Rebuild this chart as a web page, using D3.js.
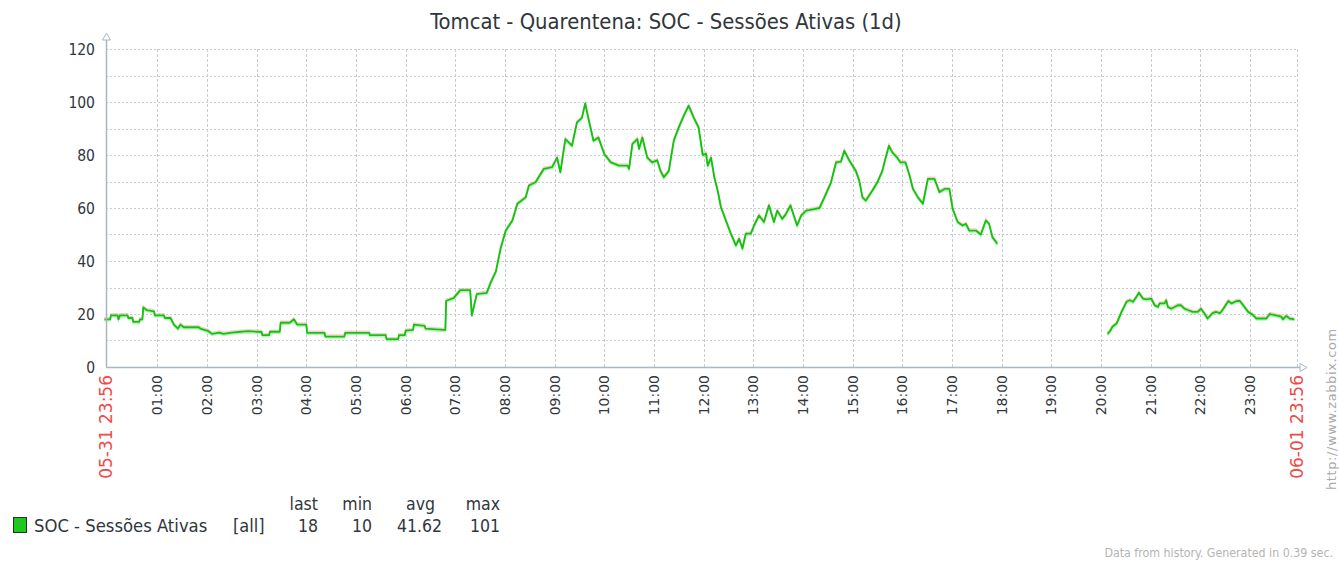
<!DOCTYPE html>
<html>
<head>
<meta charset="utf-8">
<script src="https://cdn.jsdelivr.net/npm/d3@7"></script>
<style>
  body { margin: 0; background: #fff; }
  svg text { font-family: "DejaVu Sans", sans-serif; }
  .cond { font-family: "DejaVu Sans Condensed", "DejaVu Sans", sans-serif; font-stretch: condensed; }
</style>
</head>
<body>
<div id="chart-area"></div>
<script>
// minutes after 06-01 00:00 (start is 05-31 23:56), null = no data
var minutes = [-4, 3, 4, 12, 13, 15, 24, 25, 30, 31, 38, 39, 42, 43, 47, 56, 57, 68, 69, 76, 80, 85, 88, 92,
  110, 112, 122, 126, 135, 140, 150, 158, 170, 186, 187, 195, 196, 208, 209, 220, 225, 229, 240, 241,
  262, 263, 286, 287, 316, 317, 336, 337, 351, 352, 359, 360, 369, 370, 383, 384, 406, 408, 409,
  418, 426, 438, 440, 446, 458, 463, 469, 475, 481, 489, 495, 505, 509, 517, 527, 537, 543, 547,
  553, 561, 567, 573, 577, 581, 587, 593, 600, 608, 618, 628, 630, 634, 640, 642, 646, 652, 658,
  664, 668, 672, 678, 684, 690, 696, 702, 708, 714, 719, 723, 725, 729, 733, 737, 741, 747, 753,
  759, 763, 767, 771, 777, 781, 787, 793, 799, 805, 809, 815, 819, 825, 833, 838, 844, 852, 860,
  866, 874, 880, 886, 890, 896, 904, 908, 912, 916, 924, 930, 936, 940, 944, 948, 954, 958, 964,
  969, 973, 979, 985, 991, 999, 1005, 1011, 1017, 1021, 1027, 1033, 1037, 1041, 1049, 1055, 1061,
  1065, 1069, 1075,
  1140,
  1208, 1211, 1214, 1219, 1225, 1231, 1235, 1239, 1243, 1246, 1251, 1255, 1261, 1265, 1269, 1271,
  1277, 1279, 1281, 1285, 1293, 1297, 1301, 1305, 1311, 1317, 1321, 1325, 1329, 1335, 1339, 1344,
  1348, 1354, 1358, 1364, 1368, 1372, 1378, 1384, 1388, 1400, 1404, 1410, 1418, 1420, 1424, 1428, 1434];

var sessions = [18, 18, 19.5, 19.5, 18, 19.5, 19.5, 18.5, 18.5, 17, 17, 18, 18, 22.5, 21.5, 21, 19.5, 19.5, 18.5, 18.5, 16, 14.5, 16, 15,
  15, 14.5, 13.5, 12.5, 13, 12.5, 13, 13.2, 13.5, 13.2, 12, 12, 13.3, 13.3, 16.7, 16.7, 18, 16, 16, 12.9,
  12.9, 11.5, 11.5, 12.9, 12.9, 12, 12, 10.5, 10.5, 12, 12, 13.7, 14, 16, 15.5, 14.5, 14, 14, 25,
  26, 29, 29, 19.5, 27.5, 28, 32, 36, 45, 51.5, 55.3, 61.6, 64, 68.5, 69.7, 74.8, 75.4, 79, 73.5,
  86, 83.5, 92.3, 94, 99.5, 93.6, 85.4, 86.6, 80.4, 77.2, 76, 76, 74.8, 84.2, 86, 82.3, 86.6, 79, 77.2,
  78, 74, 71.6, 74, 85.4, 90.4, 94.8, 98.6, 94.2, 90.4, 80, 80.5, 76, 79, 71.6, 66.6, 60.3, 55.3, 50.3,
  45.9, 48.4, 44.7, 50.3, 50.3, 53.4, 57.2, 54.7, 61, 54.7, 59, 55.9, 57.5, 61, 53.4, 57.2, 59, 59.5, 60,
  64, 69.7, 77.2, 77.5, 81.6, 78, 74, 70.4, 64, 62.8, 66.6, 69.7, 74, 79, 83.5, 81, 79, 77.2, 77.2,
  72.2, 67.2, 64, 61.6, 71, 71, 66, 67.2, 67.2, 59.7, 54.7, 53.4, 54, 51.5, 51.5, 50, 55.3,
  54, 49, 46.5,
  null,
  12.5, 13.5, 15.2, 16.4, 20.8, 24.6, 25.2, 24.6, 26.5, 28, 25.8, 25.5, 25.8, 23.3, 22.7, 24,
  24, 25.2, 22.7, 22, 23.3, 23.3, 22, 21.5, 20.8, 20.8, 22, 20.3, 18.3, 20.3, 20.8, 20.3,
  22, 24.9, 24, 24.9, 24.9, 23.3, 20.8, 19.6, 18.3, 18.3, 20, 19.6, 19, 18, 19.3, 18.3, 18];

var yTicks = [0, 20, 40, 60, 80, 100, 120];
var hourTicks = ["01:00", "02:00", "03:00", "04:00", "05:00", "06:00", "07:00", "08:00", "09:00", "10:00",
  "11:00", "12:00", "13:00", "14:00", "15:00", "16:00", "17:00", "18:00", "19:00", "20:00",
  "21:00", "22:00", "23:00"];
var legendHeaders = ["last", "min", "avg", "max"];
var legendValues = ["18", "10", "41.62", "101"];

var width = 1339, height = 561;
var plotLeft = 106, plotRight = 1297, plotTop = 49, plotBottom = 367;
var axisColor = "#a9b6c3", gridColor = "#c4ccd4", textColor = "#30363c";

var svg = d3.select("#chart-area").append("svg")
	.attr("width", width)
	.attr("height", height);

var x = d3.scaleLinear().domain([-2, 1437]).range([plotLeft, plotRight]);
var y = d3.scaleLinear().domain([0, 120]).range([plotBottom, plotTop]);

function hourMin(s) {
	return +s.slice(0, 2) * 60;
}

// title
svg.append("text")
	.attr("x", 666)
	.attr("y", 29)
	.attr("text-anchor", "middle")
	.attr("font-size", 21.8)
	.attr("fill", textColor)
	.attr("class", "cond")
	.text("Tomcat - Quarentena: SOC - Sessões Ativas (1d)");

// horizontal grid every 10
svg.append("g").selectAll("line")
	.data(d3.range(10, 121, 10))
	.join("line")
	.attr("x1", plotLeft)
	.attr("x2", plotRight)
	.attr("y1", function(d) { return Math.round(y(d)) + 0.5; })
	.attr("y2", function(d) { return Math.round(y(d)) + 0.5; })
	.attr("stroke", gridColor)
	.attr("stroke-dasharray", "2,2");

// vertical grid at each hour + end
svg.append("g").selectAll("line")
	.data(hourTicks.map(hourMin).concat([1437]))
	.join("line")
	.attr("x1", function(d) { return Math.round(x(d)) + 0.5; })
	.attr("x2", function(d) { return Math.round(x(d)) + 0.5; })
	.attr("y1", plotTop)
	.attr("y2", plotBottom)
	.attr("stroke", gridColor)
	.attr("stroke-dasharray", "3,2");

// y axis labels
svg.append("g").selectAll("text")
	.data(yTicks)
	.join("text")
	.attr("x", 95)
	.attr("y", function(d) { return y(d); })
	.attr("dy", "0.36em")
	.attr("text-anchor", "end")
	.attr("class", "cond")
	.attr("font-size", 15.5)
	.attr("fill", textColor)
	.text(function(d) { return d; });

// hour labels
svg.append("g").selectAll("text")
	.data(hourTicks)
	.join("text")
	.attr("transform", function(d) { return "translate(" + x(hourMin(d)) + ",375) rotate(-90)"; })
	.attr("dy", "0.36em")
	.attr("text-anchor", "end")
	.attr("font-family", "DejaVu Sans Mono, monospace")
	.attr("font-size", 14)
	.attr("fill", textColor)
	.text(function(d) { return d; });

// red start / end labels
svg.append("g").selectAll("text")
	.data([[-2, "05-31 23:56"], [1437, "06-01 23:56"]])
	.join("text")
	.attr("transform", function(d) { return "translate(" + x(d[0]) + ",375) rotate(-90)"; })
	.attr("dy", "0.36em")
	.attr("text-anchor", "end")
	.attr("font-family", "DejaVu Sans Mono, monospace")
	.attr("font-size", 17)
	.attr("fill", "#f04a46")
	.text(function(d) { return d[1]; });

// data line (min / max haze then avg)
var line = d3.line()
	.defined(function(d, i) { return sessions[i] !== null; })
	.x(function(d) { return x(d); })
	.y(function(d, i) { return y(sessions[i]); });

svg.append("path")
	.attr("d", line(minutes))
	.attr("transform", "translate(0,-1.5)")
	.attr("fill", "none")
	.attr("stroke", "#ff9c9c")
	.attr("stroke-opacity", 0.55)
	.attr("stroke-width", 1.5);

svg.append("path")
	.attr("d", line(minutes))
	.attr("transform", "translate(0,1.5)")
	.attr("fill", "none")
	.attr("stroke", "#7cf07c")
	.attr("stroke-opacity", 0.6)
	.attr("stroke-width", 1.5);

svg.append("path")
	.attr("d", line(minutes))
	.attr("fill", "none")
	.attr("stroke", "#0fc40f")
	.attr("stroke-width", 1.8)
	.attr("stroke-linejoin", "round");

// axes with hollow arrows
svg.append("line")
	.attr("x1", plotLeft + 0.5).attr("x2", plotLeft + 0.5)
	.attr("y1", plotBottom).attr("y2", 38)
	.attr("stroke", axisColor).attr("stroke-width", 1.5);
svg.append("line")
	.attr("x1", plotLeft).attr("x2", 1300)
	.attr("y1", plotBottom + 0.5).attr("y2", plotBottom + 0.5)
	.attr("stroke", axisColor).attr("stroke-width", 1.5);
svg.append("path")
	.attr("d", "M" + (plotLeft - 3.5) + ",40 L" + (plotLeft + 0.5) + ",33 L" + (plotLeft + 4.5) + ",40 Z")
	.attr("fill", "#fff").attr("stroke", axisColor);
svg.append("path")
	.attr("d", "M1300," + (plotBottom - 3.5) + " L1307," + (plotBottom + 0.5) + " L1300," + (plotBottom + 4.5) + " Z")
	.attr("fill", "#fff").attr("stroke", axisColor);

// zabbix url
svg.append("text")
	.attr("transform", "translate(1331,490) rotate(-90)")
	.attr("dy", "0.36em")
	.attr("font-family", "DejaVu Sans Mono, monospace")
	.attr("font-size", 13)
	.attr("letter-spacing", 0.6)
	.attr("fill", "#a8a8a8")
	.text("http://www.zabbix.com");

// legend
svg.append("rect")
	.attr("x", 13.5).attr("y", 517.5)
	.attr("width", 13).attr("height", 15)
	.attr("fill", "#1ec81e")
	.attr("stroke", "#1d3a1d");

svg.append("text")
	.attr("x", 34).attr("y", 532)
	.attr("class", "cond")
	.attr("font-size", 18.3)
	.attr("fill", textColor)
	.text("SOC - Sessões Ativas");

svg.append("text")
	.attr("x", 233).attr("y", 532)
	.attr("class", "cond")
	.attr("font-size", 18)
	.attr("fill", textColor)
	.text("[all]");

var headerX = [318, 372, 435, 500];
var valueX = [318, 372, 442, 500];

svg.append("g").selectAll("text")
	.data(legendHeaders)
	.join("text")
	.attr("x", function(d, i) { return headerX[i]; })
	.attr("y", 510)
	.attr("text-anchor", "end")
	.attr("class", "cond")
	.attr("font-size", 17.5)
	.attr("fill", textColor)
	.text(function(d) { return d; });

svg.append("g").selectAll("text")
	.data(legendValues)
	.join("text")
	.attr("x", function(d, i) { return valueX[i]; })
	.attr("y", 532)
	.attr("text-anchor", "end")
	.attr("class", "cond")
	.attr("font-size", 17.5)
	.attr("fill", textColor)
	.text(function(d) { return d; });

// footer
svg.append("text")
	.attr("x", 1333).attr("y", 557)
	.attr("text-anchor", "end")
	.attr("class", "cond")
	.attr("font-size", 12.3)
	.attr("fill", "#b4b4b4")
	.text("Data from history. Generated in 0.39 sec.");
</script>
</body>
</html>
